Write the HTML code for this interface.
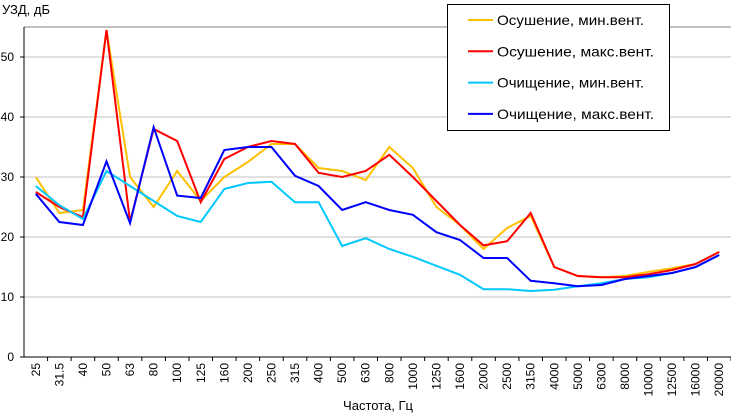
<!DOCTYPE html>
<html><head><meta charset="utf-8"><style>
body{margin:0;background:#fff;}
svg{display:block;font-family:"Liberation Sans",sans-serif;}
</style></head><body>
<svg id="c" width="731" height="414"></svg>
<script>
const categories=["25","31.5","40","50","63","80","100","125","160","200","250","315","400","500","630","800","1000","1250","1600","2000","2500","3150","4000","5000","6300","8000","10000","12500","16000","20000"];
const dryMin=[30,24,24.5,54.5,30,25,31,26,30,32.5,35.5,35.5,31.5,31,29.5,35,31.5,25,22,18,21.5,23.5,15,13.5,13.3,13.5,14.2,14.8,15.5,17.5];
const dryMax=[27.5,25,23.3,54.5,22.5,38,36,25.8,33,35,36,35.5,30.7,30,31,33.7,30,26,22,18.6,19.3,24,15,13.5,13.3,13.3,13.8,14.5,15.5,17.5];
const cleanMin=[28.5,25.3,23,31,28.5,26,23.5,22.5,28,29,29.2,25.8,25.8,18.5,19.8,18,16.7,15.2,13.7,11.3,11.3,11,11.2,11.8,12.3,13,13.3,14,15,17];
const cleanMax=[27.2,22.5,22,32.6,22.3,38.3,26.9,26.5,34.5,35,35,30.2,28.5,24.5,25.8,24.5,23.7,20.8,19.5,16.5,16.5,12.7,12.3,11.8,12,13,13.5,14,15,17];
const yTicks=[0,10,20,30,40,50];
const seriesNames=["Осушение, мин.вент.","Осушение, макс.вент.","Очищение, мин.вент.","Очищение, макс.вент."];
const seriesColors=["#ffc000","#ff0000","#00c8ff","#0000ff"];
const seriesData=[dryMin,dryMax,cleanMin,cleanMax];

const svg=document.getElementById('c');
const NS='http://www.w3.org/2000/svg';
const X0=24,X1=731,Y0=357,YMAX=55,YTOP=27;
const step=(X1-X0)/categories.length;
const xc=i=>X0+step*(i+0.5);
const yv=v=>Y0-(Y0-YTOP)*v/YMAX;
function mk(t,a,p){const e=document.createElementNS(NS,t);for(const k in a)e.setAttribute(k,a[k]);(p||svg).appendChild(e);return e;}

let e=mk('line',{x1:X0,y1:YTOP,x2:X1,y2:YTOP,stroke:'#808080'});


yTicks.forEach(v=>{
  if(v>0){const g=mk('line',{x1:X0,y1:yv(v),x2:X1,y2:yv(v),stroke:'#c0c0c0'});
  
  }
  const t=mk('line',{x1:X0-4,y1:yv(v),x2:X0,y2:yv(v),stroke:'#000'});
  
  
  const l=mk('text',{x:14,y:yv(v)+4,'text-anchor':'end','font-size':'12'});l.textContent=v;
  
  
});
e=mk('line',{x1:X0,y1:YTOP,x2:X0,y2:Y0,stroke:'#000'});


e=mk('line',{x1:X0-4,y1:Y0,x2:X1,y2:Y0,stroke:'#000'});


categories.forEach((c,i)=>{
  const t=mk('line',{x1:X0+step*(i+1),y1:Y0,x2:X0+step*(i+1),y2:Y0+4,stroke:'#000'});
  
  
  const l=mk('text',{x:0,y:0,'text-anchor':'end','font-size':'12',transform:`translate(${xc(i)+4},${Y0+6}) rotate(-90)`});l.textContent=c;
  
  
});
seriesData.forEach((d,s)=>{
  const p=mk('polyline',{points:d.map((v,i)=>xc(i)+','+yv(v)).join(' '),fill:'none',stroke:seriesColors[s],'stroke-width':'2','stroke-linejoin':'miter'});
  
  
});
e=mk('text',{x:2,y:14,'font-size':'13'});e.textContent='УЗД, дБ';


e=mk('text',{x:378,y:410,'font-size':'13','text-anchor':'middle'});e.textContent='Частота, Гц';


const lg=mk('g',{});


mk('rect',{x:447.5,y:4.5,width:222,height:126,fill:'#fff',stroke:'#000'},lg);
const lens=[147,157,147,157];
seriesNames.forEach((n,s)=>{
  const y=20+s*31.3;
  const ln=mk('line',{x1:468,y1:y,x2:493,y2:y,stroke:seriesColors[s],'stroke-width':'2'},lg);
  
  
  const t=mk('text',{x:497,y:y+5,'font-size':'14',textLength:lens[s],lengthAdjust:'spacingAndGlyphs'},lg);t.textContent=n;
  
  
});
</script>
</body></html>
